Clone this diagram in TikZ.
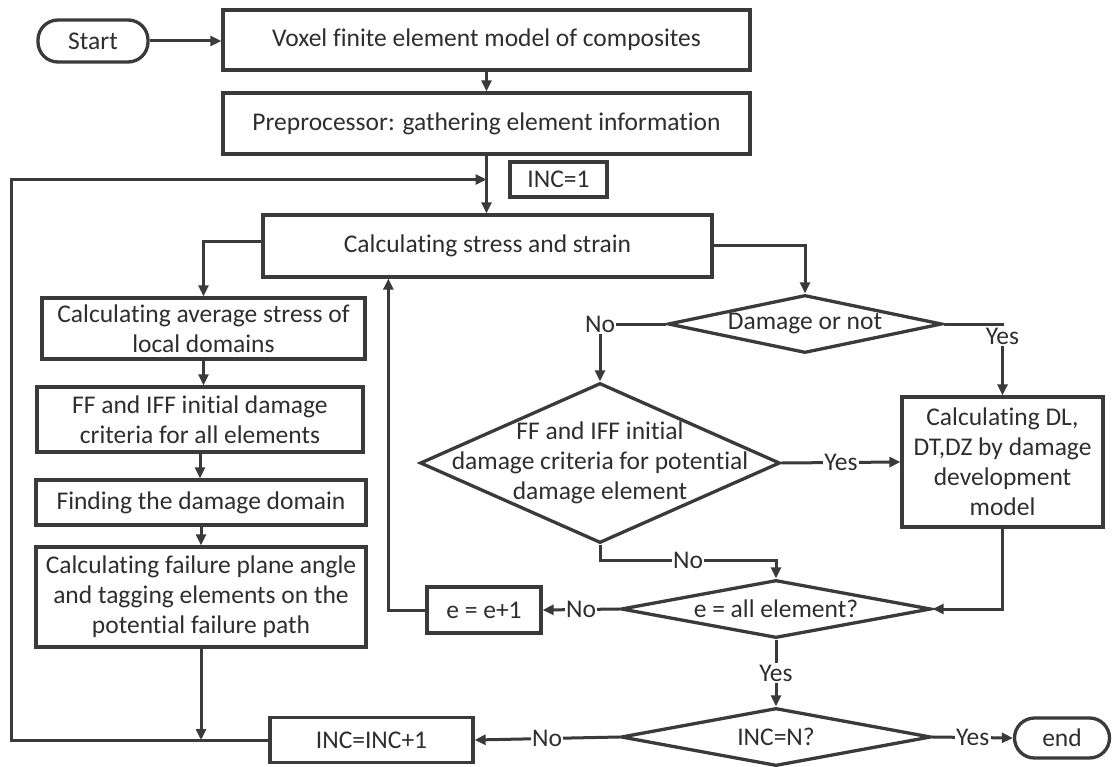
\documentclass[tikz,border=0pt]{standalone}
\usepackage{fontspec}
\setmainfont{Carlito}[Ligatures={NoCommon,NoContextual,NoRequired}]
\usetikzlibrary{shapes.geometric,arrows.meta}
\definecolor{lc}{HTML}{3A3A3A}
\definecolor{tx}{HTML}{2E2E2E}
\newcommand{\tik}{t\kern0pt i}
\begin{document}
\begin{tikzpicture}[x=1pt,y=-1pt,
  every node/.style={font=\fontsize{25.5}{30}\selectfont, text=tx},
  box/.style={draw=lc, line width=3.3pt, rectangle, inner sep=0pt, align=center},
  dia/.style={draw=lc, line width=3.3pt, diamond, inner sep=0pt},
  term/.style={draw=lc, line width=3.3pt, rounded corners=20pt, inner sep=0pt},
  arr/.style={draw=lc, line width=3pt, -{Triangle[length=11pt,width=10pt]}},
  lbl/.style={fill=white, inner sep=1.5pt}]
\useasboundingbox[fill=white] (0,0) rectangle (1113,767);

\node[term, minimum width=110pt, minimum height=42pt] (start) at (93,41) {Start};
\node[box, minimum width=527pt, minimum height=60pt] (voxel) at (486.5,40) {Voxel finite element model of composites};
\node[box, minimum width=527pt, minimum height=61pt] (prep) at (486.5,123.5) {Preprocessor: gathering element informa\tik on};
\node[box, minimum width=97pt, minimum height=35pt] (inc1) at (558.5,179.5) {INC=1};
\node[box, minimum width=449pt, minimum height=62pt] (calc) at (487.5,246) {Calcula\tik ng stress and strain};

\node[box, minimum width=323pt, minimum height=61pt] (avg) at (203.5,328.5) {Calcula\tik ng average stress of\\local domains};
\node[box, minimum width=326pt, minimum height=65pt] (ffall) at (200,419.5) {FF and IFF ini\tik al damage\\criteria for all elements};
\node[box, minimum width=330pt, minimum height=45pt] (find) at (201,502.5) {Finding the damage domain};
\node[box, minimum width=330pt, minimum height=100pt] (fail) at (201,597) {Calcula\tik ng failure plane angle\\and tagging elements on the\\poten\tik al failure path};
\node[box, minimum width=203pt, minimum height=45pt] (incinc) at (371.5,740) {INC=INC+1};

\node[dia, minimum width=274pt, minimum height=58pt, label={center:Damage or not}] (dmg) at (805,324) {};
\node[dia, minimum width=360pt, minimum height=160pt, label={[align=center]center:FF and IFF ini\tik al\\damage criteria for poten\tik al\\damage element}] (ffpot) at (600,463) {};
\node[box, minimum width=201pt, minimum height=130pt] (dl) at (1002.5,462) {Calcula\tik ng DL,\\DT,DZ by damage\\development\\model};
\node[box, minimum width=114pt, minimum height=46pt] (eplus) at (484,610) {e = e+1};
\node[dia, minimum width=310pt, minimum height=58pt, label={center:e = all element?}] (eall) at (776,609) {};
\node[dia, minimum width=310pt, minimum height=58pt, label={center:INC=N?}] (incn) at (776,737) {};
\node[term, minimum width=95pt, minimum height=40pt] (endn) at (1062,738) {end};

\draw[arr] (start.east) -- (start.east -| voxel.west);
\draw[arr] (voxel.south) -- (voxel.south |- prep.north);
\draw[arr] (prep.south) -- (prep.south |- calc.north);
\draw[arr] (incinc.west) -- ++(-257,0) |- (prep.south |- inc1.west);
\draw[arr] ([yshift=4pt]calc.west) -| (avg.north);
\draw[arr] (avg.south) -- (avg.south |- ffall.north);
\draw[arr] (ffall.south) -- (ffall.south |- find.north);
\draw[arr] (find.south) -- (find.south |- fail.north);
\draw[arr] (fail.south) -- (fail.south |- incinc.west);
\draw[arr] (calc.east) -| (dmg.north);
\draw[arr] (dmg.west) -| node[lbl]{No} (ffpot.north);
\draw[arr] (dmg.east) -| node[lbl, yshift=-12pt]{Yes} (dl.north);
\draw[arr] (ffpot.east) -- node[lbl]{Yes} (dl.west);
\draw[arr] (ffpot.south) -- ++(0,16) -| node[lbl,pos=0.25]{No} (eall.north);
\draw[arr] (dl.south) |- (eall.east);
\draw[arr] (eall.west) -- node[lbl]{No} (eplus.east);
\draw[arr] (eplus.west) -| ([xshift=127pt]calc.south west);
\draw[arr] (eall.south) -- node[lbl]{Yes} (incn.north);
\draw[arr] (incn.west) -- node[lbl]{No} (incinc.east);
\draw[arr] (incn.east) -- node[lbl]{Yes} (endn.west);
\end{tikzpicture}
\end{document}
